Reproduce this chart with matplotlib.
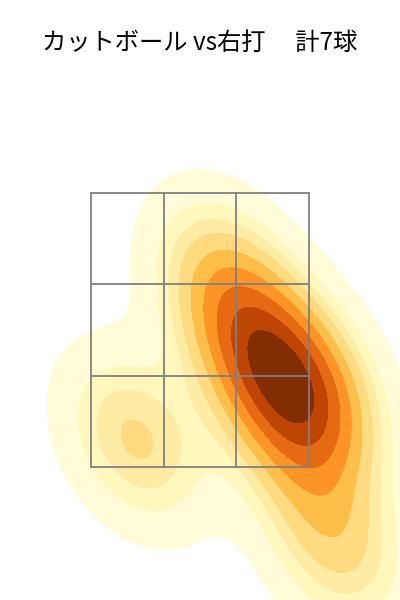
import numpy as np
import matplotlib
matplotlib.use("Agg")
import matplotlib.pyplot as plt
import seaborn as sns

# pitch locations (plate_x, plate_z in ft), 7 cutters vs RHB
plate_x = [-0.50, 0.20, 0.42, 0.62, 0.88, 0.76, 1.05]
plate_z = [1.70, 2.85, 2.40, 2.18, 2.05, 1.75, 0.95]

zone_x = [-0.85, 0.85]
zone_z = [1.5, 3.5]

plt.rcParams['font.family'] = ['Noto Sans CJK JP', 'DejaVu Sans']

fig = plt.figure(figsize=(4, 6), dpi=100)
ax = fig.add_axes([0, 0, 1, 1])

sns.kdeplot(x=plate_x, y=plate_z, fill=True, cmap='YlOrBr', levels=10, thresh=0.05, ax=ax)

# 3x3 strike zone grid
xs = np.linspace(zone_x[0], zone_x[1], 4)
zs = np.linspace(zone_z[0], zone_z[1], 4)
for x in xs:
    ax.plot([x, x], zone_z, color='gray', lw=1.3)
for z in zs:
    ax.plot(zone_x, [z, z], color='gray', lw=1.3)

ax.set_xlim(-1.56, 1.56)
ax.set_ylim(0.529, 4.909)
ax.axis('off')

fig.text(0.5, 1 - 43/600, 'カットボール vs右打\u3000 計7球', ha='center', va='center', fontsize=17.5)

fig.savefig('out.png', dpi=100)
